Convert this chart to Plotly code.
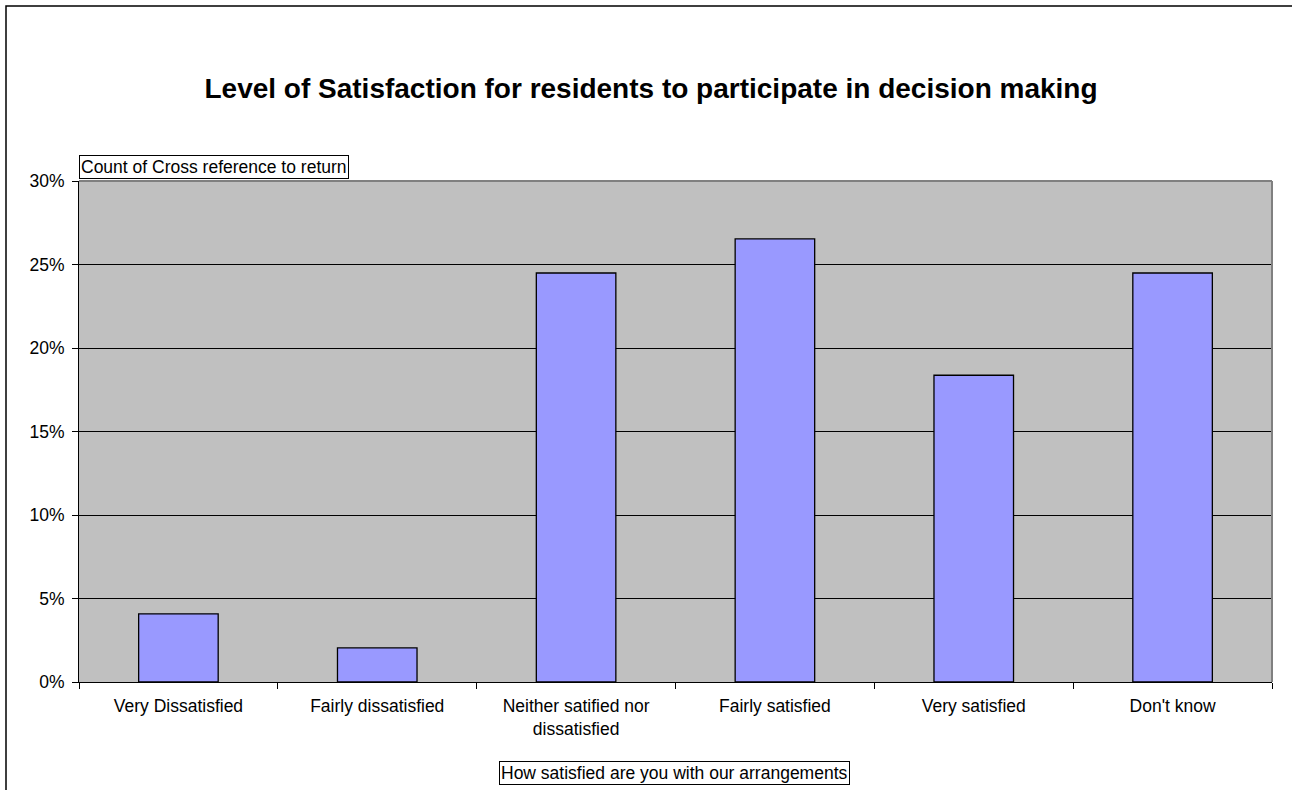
import plotly.graph_objects as go

categories = ["Very Dissatisfied", "Fairly dissatisfied", "Neither satified nor<br>dissatisfied",
              "Fairly satisfied", "Very satisfied", "Don't know"]
counts = [2, 1, 12, 13, 9, 12]
total = sum(counts)
shares = [c / total for c in counts]
y_ticks = [0, 0.05, 0.10, 0.15, 0.20, 0.25, 0.30]
y_tick_labels = ["0%", "5%", "10%", "15%", "20%", "25%", "30%"]

W, H = 1292, 790
L, R, T, B = 79, 20, 181, 108
pw, ph = W - L - R, H - T - B

def px(x):
    return (x - L) / pw

def py(y):
    return (H - B - y) / ph

fig = go.Figure(go.Bar(
    x=categories, y=shares,
    marker=dict(color="#9999FF", line=dict(color="black", width=1.3)),
    width=0.4,
))

font = "Liberation Sans, Arial, sans-serif"
fig.update_layout(
    width=W, height=H,
    margin=dict(l=L, r=R, t=T, b=B, pad=0),
    paper_bgcolor="white", plot_bgcolor="#C0C0C0",
    showlegend=False,
    font=dict(family=font, size=17.5, color="black"),
    title=dict(text="<b>Level of Satisfaction for residents to participate in decision making</b>",
               xref="container", x=651 / W, xanchor="center", y=1 - 88 / H, yanchor="middle",
               font=dict(size=28, family=font, color="black")),
    xaxis=dict(type="category", tickson="boundaries", ticks="outside", ticklen=6,
               tickcolor="black", showline=True, linecolor="black", linewidth=1,
               showgrid=False, tickfont=dict(size=17.5), fixedrange=True,
               ticklabelstandoff=8),
    yaxis=dict(range=[0, 0.30], tickvals=y_ticks, ticktext=y_tick_labels,
               ticks="outside", ticklen=6, tickcolor="black",
               showline=True, linecolor="black", linewidth=1,
               showgrid=True, gridcolor="black", gridwidth=1, zeroline=False,
               tickfont=dict(size=17.5), fixedrange=True, ticklabelstandoff=4),
    shapes=[
        dict(type="line", xref="paper", yref="paper", x0=0, x1=1, y0=1, y1=1,
             line=dict(color="#808080", width=2)),
        dict(type="line", xref="paper", yref="paper", x0=1, x1=1, y0=0, y1=1,
             line=dict(color="#808080", width=2)),
        dict(type="rect", xref="paper", yref="paper",
             x0=px(6), x1=px(1310), y0=py(810), y1=py(6),
             line=dict(color="black", width=1.5), fillcolor="rgba(0,0,0,0)"),
    ],
    annotations=[
        dict(text="Count of Cross reference to return", xref="paper", yref="paper",
             x=0, xanchor="left", y=py(167), yanchor="middle", showarrow=False,
             bordercolor="black", borderwidth=1, borderpad=1, bgcolor="white",
             font=dict(size=17.5)),
        dict(text="How satisfied are you with our arrangements", xref="paper", yref="paper",
             x=px(674), xanchor="center", y=py(773), yanchor="middle", showarrow=False,
             bordercolor="black", borderwidth=1, borderpad=1, bgcolor="white",
             font=dict(size=17.5)),
    ],
)

fig.write_html("out.html", config={"displayModeBar": False},
               post_script="document.body.style.margin='0';")
